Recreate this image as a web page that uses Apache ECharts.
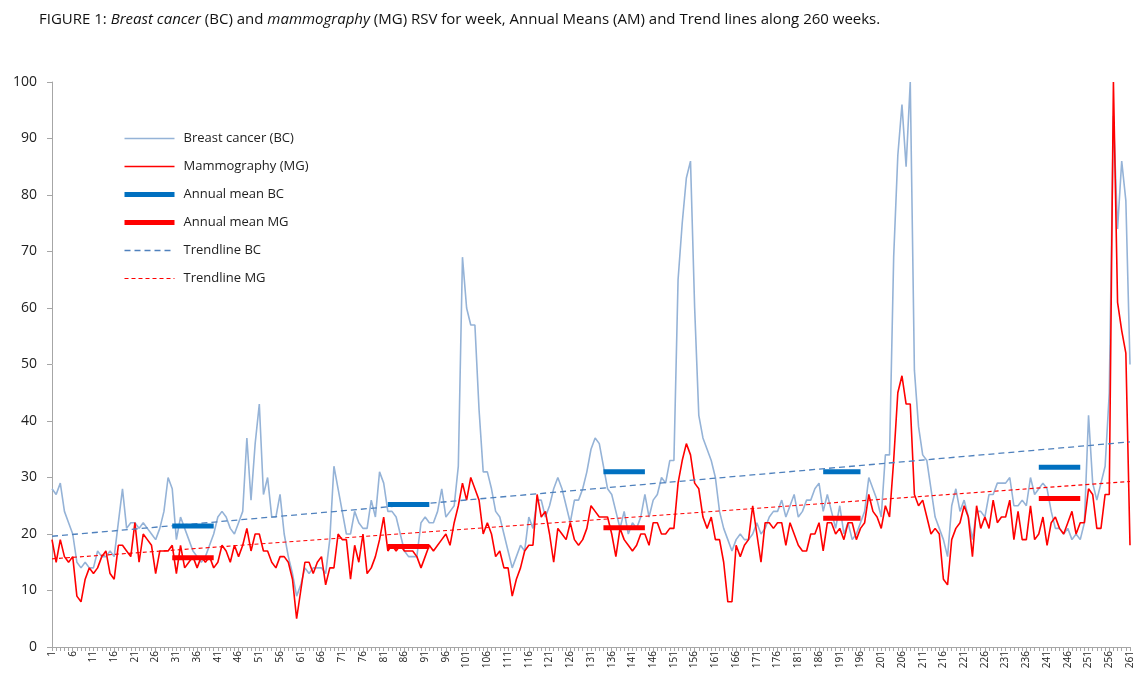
<!DOCTYPE html>
<html><head><meta charset="utf-8">
<script src="https://cdn.jsdelivr.net/npm/echarts@6/dist/echarts.min.js"></script>
<style>html,body{margin:0;padding:0;background:#fff}#chart{width:1140px;height:679px}</style>
</head><body><div id="chart"></div>
<script>
// Week categories 1..261
const weeks = [];
for (let w = 1; w <= 261; w++) weeks.push(String(w));

// Weekly RSV, Breast cancer (BC)
const bcValues = [
  28,27,29,24,22,20,15,14,15,14,
  14,17,16,16,17,16,22,28,21,22,
  22,21,22,21,20,19,21,24,30,28,
  19,23,21,19,17,16,15,16,18,20,
  23,24,23,21,20,22,24,37,26,36,
  43,27,30,23,23,27,20,16,13,9,
  11,14,13,14,14,14,13,19,32,28,
  24,20,20,24,22,21,21,26,23,31,
  29,24,24,23,20,17,16,16,16,22,
  23,22,22,24,28,23,24,25,32,69,
  60,57,57,42,31,31,28,24,23,20,
  17,14,16,18,17,23,21,26,26,23,
  25,28,30,28,25,22,26,26,28,31,
  35,37,36,32,28,27,24,21,24,20,
  22,21,23,27,23,26,27,30,29,33,
  33,65,75,83,86,60,41,37,35,33,
  30,24,21,19,17,19,20,19,19,20,
  22,20,21,23,24,24,26,23,25,27,
  23,24,26,26,28,29,24,27,24,21,
  25,20,22,19,20,22,24,30,28,26,
  23,34,34,69,87,96,85,100,49,39,
  34,33,28,23,21,19,16,25,28,24,
  26,23,19,24,24,23,27,27,29,29,
  29,30,25,25,26,25,30,27,28,29,
  28,24,21,21,20,21,19,20,19,22,
  41,29,26,29,32,45,94,74,86,79,50
];

// Weekly RSV, Mammography (MG)
const mgValues = [
  19,15,19,16,15,16,9,8,12,14,
  13,14,16,17,13,12,18,18,17,16,
  22,15,20,19,18,13,17,17,17,18,
  13,18,14,15,16,14,16,15,16,14,
  15,18,17,15,18,16,18,21,17,20,
  20,17,17,15,14,16,16,15,12,5,
  10,15,15,13,15,16,11,14,14,20,
  19,19,12,18,15,20,13,14,16,19,
  23,17,18,17,18,17,17,17,16,14,
  16,18,17,18,19,20,18,22,25,29,
  26,30,28,26,20,22,20,16,17,14,
  14,9,12,14,17,18,18,27,23,24,
  20,15,21,20,19,22,19,18,19,21,
  25,24,23,23,23,20,16,21,19,18,
  17,18,20,20,18,22,22,20,20,21,
  21,29,33,36,34,29,28,23,21,23,
  19,19,15,8,8,18,16,18,19,25,
  20,15,22,22,21,22,22,18,22,20,
  18,17,17,20,20,22,17,22,22,20,
  21,19,22,22,19,21,22,27,24,23,
  21,25,23,33,45,48,43,43,27,25,
  26,23,20,21,20,12,11,19,21,22,
  25,23,16,25,21,23,21,26,22,23,
  23,26,19,24,19,19,25,19,20,23,
  18,22,23,21,20,22,24,20,22,22,
  28,27,21,21,27,27,100,61,56,52,18
];

// Annual means: week spans and values
const meanSpans = [[30,40],[82,92],[134,144],[187,196],[239,249]];
const meanBC = [21.4, 25.2, 31.0, 31.0, 31.8];
const meanMG = [15.8, 17.8, 21.1, 22.8, 26.3];

// Trend lines: values at week 1 and week 261
const trendBC = [19.6, 36.3];
const trendMG = [15.6, 29.3];

function spanSeries(vals) {
  const arr = weeks.map(() => null);
  meanSpans.forEach((s, k) => {
    for (let w = s[0]; w <= s[1]; w++) arr[w - 1] = vals[k];
  });
  return arr;
}

const font = "'Open Sans', 'Liberation Sans', sans-serif";
const chart = echarts.init(document.getElementById('chart'), null, {renderer: 'canvas'});
chart.setOption({
  animation: false,
  backgroundColor: '#fff',
  title: {
    left: 34, top: 7,
    text: '{n|FIGURE 1: }{i|Breast cancer}{n| (BC) and }{i|mammography}{n| (MG) RSV for week, Annual Means (AM) and Trend lines along 260 weeks.}',
    textStyle: {
      fontWeight: 'normal',
      rich: {
        n: {fontSize: 15, fontFamily: font, color: '#111', fontWeight: 'normal'},
        i: {fontSize: 15, fontFamily: font, color: '#111', fontStyle: 'italic', fontWeight: 'normal'}
      }
    }
  },
  legend: {
    orient: 'vertical', left: 117, top: 127,
    itemWidth: 50, itemHeight: 14, itemGap: 15,
    itemStyle: {opacity: 0, borderWidth: 0},
    lineStyle: {width: 'inherit'},
    textStyle: {fontSize: 13, fontFamily: font, color: '#222', padding: [0,0,0,4]},
    data: ['Breast cancer (BC)', 'Mammography (MG)', 'Annual mean BC', 'Annual mean MG', 'Trendline BC', 'Trendline MG']
  },
  grid: {left: 52, right: 10, top: 82, bottom: 32},
  xAxis: {
    type: 'category', data: weeks, boundaryGap: false,
    axisLine: {lineStyle: {color: '#A6A6A6', width: 1}},
    axisTick: {show: true, interval: 0, length: 4, lineStyle: {color: '#A6A6A6'}},
    axisLabel: {interval: 4, rotate: 90, fontSize: 10, color: '#222', fontFamily: font, margin: 4},
    splitLine: {show: false}
  },
  yAxis: {
    type: 'value', min: 0, max: 100, interval: 10,
    axisLine: {show: true, lineStyle: {color: '#A6A6A6', width: 1}},
    axisTick: {show: true, length: 5, lineStyle: {color: '#A6A6A6'}},
    axisLabel: {fontSize: 14, color: '#222', fontFamily: font, margin: 15},
    splitLine: {show: false}
  },
  series: [
    {name: 'Breast cancer (BC)', type: 'line', data: bcValues, symbol: 'none', z: 2,
     lineStyle: {color: '#95B3D7', width: 1.6}, itemStyle: {color: '#95B3D7'}},
    {name: 'Mammography (MG)', type: 'line', data: mgValues, symbol: 'none', z: 3,
     lineStyle: {color: '#FF0000', width: 1.6}, itemStyle: {color: '#FF0000'}},
    {name: 'Annual mean BC', type: 'line', data: spanSeries(meanBC), symbol: 'none', z: 5, connectNulls: false,
     lineStyle: {color: '#0070C0', width: 5, cap: 'butt'}, itemStyle: {color: '#0070C0'}},
    {name: 'Annual mean MG', type: 'line', data: spanSeries(meanMG), symbol: 'none', z: 5, connectNulls: false,
     lineStyle: {color: '#FF0000', width: 5, cap: 'butt'}, itemStyle: {color: '#FF0000'}},
    {name: 'Trendline BC', type: 'line', data: [[0, trendBC[0]], [weeks.length - 1, trendBC[1]]], symbol: 'none', z: 4,
     lineStyle: {color: '#4F81BD', width: 1.3, type: [6, 4]}, itemStyle: {color: '#4F81BD'}},
    {name: 'Trendline MG', type: 'line', data: [[0, trendMG[0]], [weeks.length - 1, trendMG[1]]], symbol: 'none', z: 4,
     lineStyle: {color: '#FF0000', width: 1.1, type: [4, 3]}, itemStyle: {color: '#FF0000'}}
  ]
});
</script>
</body></html>
